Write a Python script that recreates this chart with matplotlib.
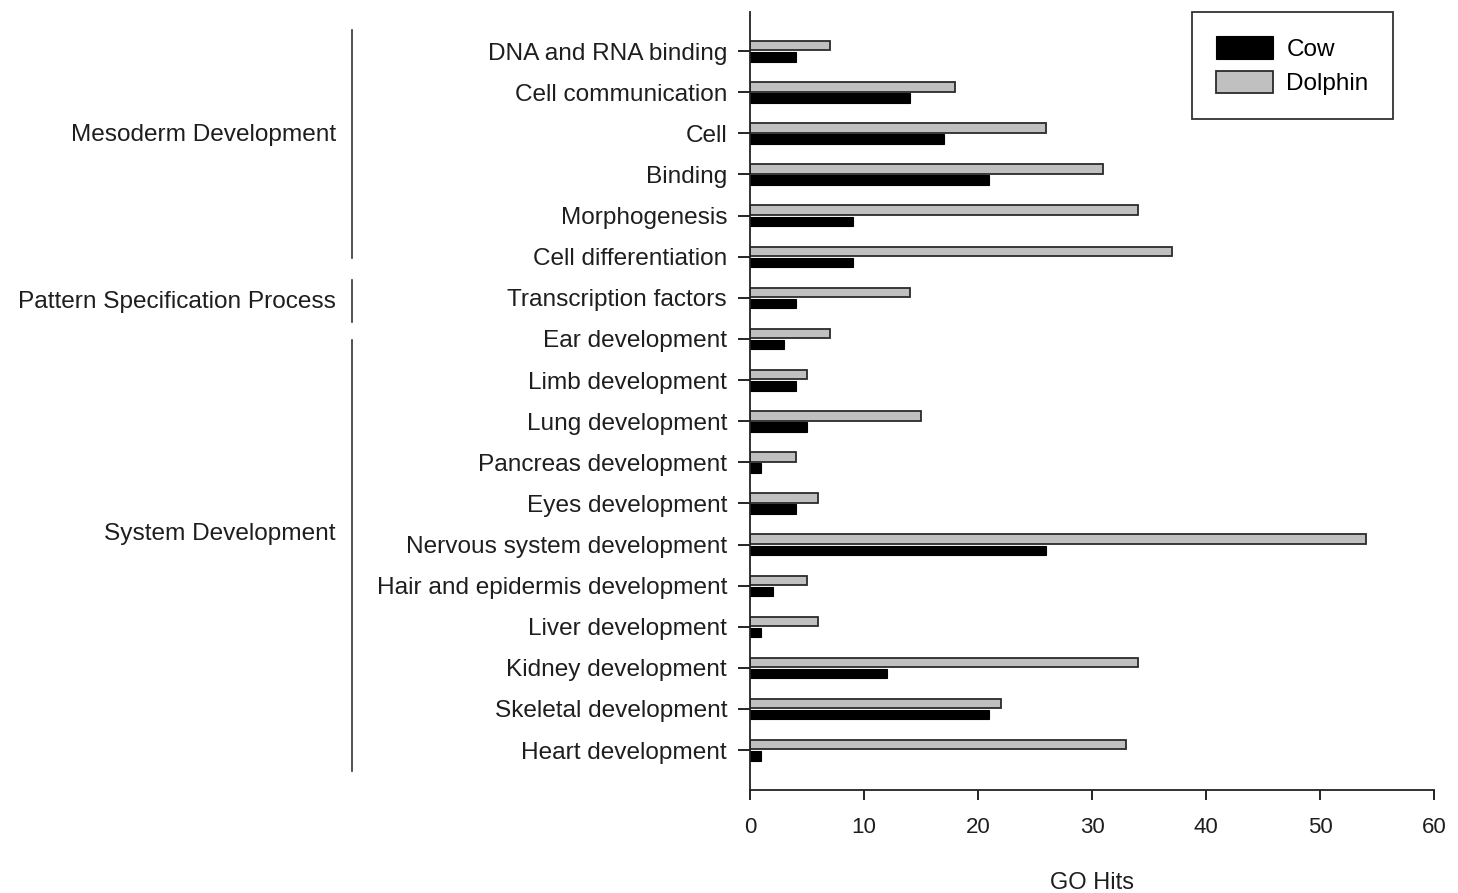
import numpy as np
import matplotlib.pyplot as plt

plt.rcParams['font.family'] = ['Liberation Sans', 'DejaVu Sans']

# data
CATEGORIES = ['DNA and RNA binding', 'Cell communication', 'Cell', 'Binding',
              'Morphogenesis', 'Cell differentiation', 'Transcription factors',
              'Ear development', 'Limb development', 'Lung development',
              'Pancreas development', 'Eyes development', 'Nervous system development',
              'Hair and epidermis development', 'Liver development',
              'Kidney development', 'Skeletal development', 'Heart development']
COW = [4, 14, 17, 21, 9, 9, 4, 3, 4, 5, 1, 4, 26, 2, 1, 12, 21, 1]
DOLPHIN = [7, 18, 26, 31, 34, 37, 14, 7, 5, 15, 4, 6, 54, 5, 6, 34, 22, 33]
GROUPS = ['Mesoderm Development', 'Pattern Specification Process', 'System Development']
# bracket extent (in category units) and label position
GROUP_LINES = [(-0.51, 5.04), (5.57, 6.6), (7.03, 17.5)]
GROUP_LABEL_Y = [2.04, 6.1, 11.75]

FS = 17.6
TXT = '#1e1e1e'

fig = plt.figure(figsize=(14.58, 8.93), dpi=100)
ax = fig.add_axes([750 / 1458, 1 - 790 / 893, 684 / 1458, 778 / 893])

n = len(CATEGORIES)
y = np.arange(n)
h = 0.23
ax.barh(y - 0.13, DOLPHIN, height=h, color='#c0c0c0', edgecolor='#2b2b2b',
        linewidth=1.3, label='Dolphin')
ax.barh(y + 0.14, COW, height=h, color='black', edgecolor='black',
        linewidth=0.8, label='Cow')

ax.set_ylim(n - 1 + 0.97, -0.95)
ax.set_xlim(0, 60)
ax.set_yticks(y)
ax.set_yticklabels(CATEGORIES, fontsize=FS, color=TXT)
ax.set_xticks(np.arange(0, 61, 10))
ax.tick_params(axis='x', labelsize=16, length=7, width=1.2, pad=12.5, labelcolor=TXT)
ax.tick_params(axis='y', length=9, width=1.2, pad=7.5)
for s in ['top', 'right']:
    ax.spines[s].set_visible(False)
for s in ['left', 'bottom']:
    ax.spines[s].set_linewidth(1.3)
    ax.spines[s].set_color('#222222')
ax.set_xlabel('GO Hits', fontsize=17, color=TXT)
ax.xaxis.set_label_coords(0.5, -(872 - 790) / 778)

# group brackets on the left
xl = (352 - 750) / 684 * 60
xt = (336 - 750) / 684 * 60
for name, (lo, hi), ym in zip(GROUPS, GROUP_LINES, GROUP_LABEL_Y):
    ax.plot([xl, xl], [lo, hi], color='#333333', lw=1.2, clip_on=False)
    ax.text(xt, ym, name, ha='right', va='center', fontsize=FS, color=TXT)

handles, labels = ax.get_legend_handles_labels()
leg = ax.legend(handles[::-1], labels[::-1], loc='upper right',
                bbox_to_anchor=((1393 - 750) / 684, 1.0), borderaxespad=0,
                fontsize=17.5, frameon=True, fancybox=False, edgecolor='black',
                handlelength=2.35, handleheight=1.05, borderpad=1.0,
                labelspacing=0.4, handletextpad=0.55)
leg.get_frame().set_linewidth(1.3)

fig.savefig('out.png', dpi=100)
